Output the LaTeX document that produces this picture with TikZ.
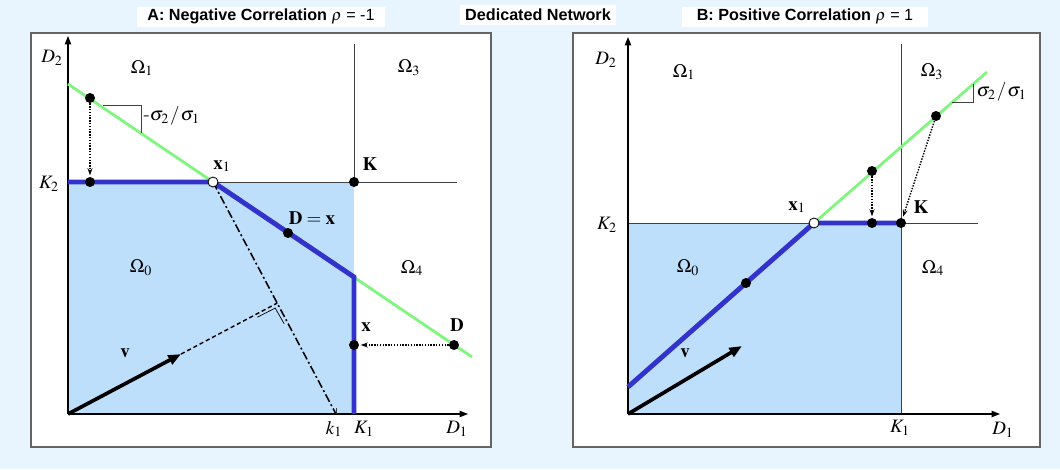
\documentclass[tikz,border=0pt]{standalone}
\usepackage{mathptmx}
\usepackage[no-math]{fontspec}
\newfontfamily\ttlfont{Liberation Sans}
\usepackage{tikz}
\usetikzlibrary{arrows.meta,positioning,calc}
\definecolor{bgblue}{RGB}{232,244,254}
\definecolor{regblue}{RGB}{190,223,252}
\definecolor{pathblue}{RGB}{51,51,204}
\definecolor{linegreen}{RGB}{128,245,128}
\definecolor{framegray}{RGB}{100,100,100}

\begin{document}
\begin{tikzpicture}[x=0.25mm,y=-0.25mm,
  ttl/.style={fill=white,font=\ttlfont\fontsize{11.5}{13}\selectfont,minimum height=4.8mm,inner sep=0pt},
  frm/.style={draw=framegray,fill=white,line width=1pt},
  ax/.style={line width=0.9pt,-{Triangle[length=6pt,width=4.5pt]}},
  grn/.style={linegreen,line width=2pt},
  blu/.style={pathblue,line width=3.5pt},
  thinln/.style={black!75,line width=0.6pt},
  dot/.style={circle,fill=black,inner sep=0pt,minimum size=2.5mm},
  odot/.style={circle,draw=black,fill=white,inner sep=0pt,minimum size=2.5mm,line width=0.6pt},
  lab/.style={font=\fontsize{13.5}{15}\selectfont,inner sep=1pt},
  mv/.style={-{Stealth[length=5pt,width=3.5pt]},densely dotted,line width=1pt,shorten >=1pt},
  vec/.style={line width=2.6pt,-{Triangle[length=9pt,width=7pt]}}]
  \path[use as bounding box,fill=bgblue] (0,0) rectangle (1060,469);
  % titles
  \node[ttl,minimum width=62mm] (ttlA) at (261,17) {{\bfseries A: Negative Correlation} $\rho$ = -1};
  \node[ttl,minimum width=39mm] (ttlN) at (538,15) {\bfseries Dedicated Network};
  \node[ttl,minimum width=61.5mm] (ttlB) at (805,17) {{\bfseries B: Positive Correlation} $\rho$ = 1};

  % panel A
  \draw[frm] (31,33) rectangle (491,447);
  \fill[regblue] (68,182) rectangle (354,414);
  \coordinate (Oa) at (68,414);
  \coordinate (K2a) at (68,182);
  \coordinate (Ka) at (354,182);
  \coordinate (x1a) at (213,182);
  \coordinate (Ca) at (354,277);
  \coordinate (K1a) at (354,414);
  \coordinate (k1a) at (336,414);
  \coordinate (Ga) at (68,84);
  \coordinate (Ha) at (472,357);
  \draw[thinln] (354,44) -- (Ka);
  \draw[thinln] (K2a) -- (457,182);
  \draw[ax] (Oa) -- (68,36);
  \draw[ax] (Oa) -- (468,414);
  \draw[thinln] (k1a) -- ++(0,-6);
  \draw[grn] (Ga) -- (Ha);
  \draw[blu] (K2a) -- (x1a) -- (Ca) -- (K1a);
  \draw[black,line width=1.1pt,dash pattern=on 6pt off 2pt on 1.4pt off 2pt] (x1a) -- (k1a);
  \coordinate (Fa) at ($(x1a)!(Oa)!(k1a)$);
  \draw[vec] (Oa) -- ($(Oa)!0.54!(Fa)$) coordinate (vtipa);
  \draw[densely dashed,line width=1pt] (vtipa) -- (Fa);
  \coordinate (Fm) at ($(Fa)+(-2,5)$);
  \draw[black,line width=0.5pt] ($(Fm)!5mm!(Oa)$) -- (Fm) -- ($(Fm)!4.5mm!(k1a)$);
  \draw[thinln] (103,105) -- (141,105) -- (141,133);
  \node[dot] (p1a) at (90,98) {};
  \node[dot] (q1a) at (90,182) {};
  \node[dot] (Da) at (288,233) {};
  \node[dot] (xa) at (354,345) {};
  \node[dot] (Dpa) at (454,345) {};
  \node[dot] (Kda) at (Ka) {};
  \node[odot] (x1da) at (x1a) {};
  \draw[mv] (p1a) -- (q1a);
  \draw[mv] (Dpa) -- (xa);
  \node[lab] (D2a) at (52,58) {$D_2$};
  \node[lab] (Om1a) at (142,68) {$\Omega_1$};
  \node[lab] (Om3a) at (409,68) {$\Omega_3$};
  \node[lab] (Om0a) at (141,268) {$\Omega_0$};
  \node[lab] (Om4a) at (412,268) {$\Omega_4$};
  \node[lab] (K2la) at (49,184) {$K_2$};
  \node[lab] (x1la) at (222,166) {$\mathbf{x}_1$};
  \node[lab] (Kla) at (370,164) {$\mathbf{K}$};
  \node[lab] (Dxla) at (312,218) {$\mathbf{D}=\mathbf{x}$};
  \node[lab] (xla) at (366,327) {$\mathbf{x}$};
  \node[lab] (Dla) at (457,325) {$\mathbf{D}$};
  \node[lab] (vla) at (125,353) {$\mathbf{v}$};
  \node[lab] (k1la) at (334,429) {$k_1$};
  \node[lab] (K1la) at (364,429) {$K_1$};
  \node[lab] (D1la) at (457,429) {$D_1$};
  \node[lab,anchor=west] (slpa) at (142,116) {$\textrm{-}\sigma_2\mkern1mu/\mkern1mu\sigma_1$};

  % panel B
  \draw[frm] (573,33) rectangle (1040,447);
  \fill[regblue] (628,223) rectangle (901,414);
  \coordinate (Ob) at (628,414);
  \coordinate (Kb) at (901,223);
  \coordinate (x1b) at (814,223);
  \coordinate (Sb) at (628,387);
  \coordinate (Gb) at (987,72);
  \draw[thinln] (901,44) -- (901,414);
  \draw[thinln] (628,223) -- (978,223);
  \draw[ax] (Ob) -- (628,37);
  \draw[ax] (Ob) -- (1000,414);
  \draw[grn] (x1b) -- (Gb);
  \draw[blu] (Sb) -- (x1b) -- (Kb);
  \draw[thinln] (952,102) -- (973,102) -- (973,84);
  \draw[vec] (Ob) -- (742,346);
  \node[dot] (Mb) at (746,283) {};
  \node[dot] (p1b) at (872,171) {};
  \node[dot] (q1b) at (872,223) {};
  \node[dot] (p2b) at (936,116) {};
  \node[dot] (Kdb) at (Kb) {};
  \node[odot] (x1db) at (x1b) {};
  \draw[mv] (p1b) -- (q1b);
  \draw[mv] (p2b) -- (Kdb);
  \node[lab] (D2b) at (606,60) {$D_2$};
  \node[lab] (Om1b) at (684,72) {$\Omega_1$};
  \node[lab] (Om3b) at (932,72) {$\Omega_3$};
  \node[lab] (Om0b) at (688,268) {$\Omega_0$};
  \node[lab] (Om4b) at (933,268) {$\Omega_4$};
  \node[lab] (K2lb) at (607,225) {$K_2$};
  \node[lab] (x1lb) at (797,207) {$\mathbf{x}_1$};
  \node[lab] (Klb) at (921,207) {$\mathbf{K}$};
  \node[lab] (vlb) at (685,353) {$\mathbf{v}$};
  \node[lab] (K1lb) at (900,428) {$K_1$};
  \node[lab] (D1lb) at (1003,430) {$D_1$};
  \node[lab,anchor=west] (slpb) at (975,92) {$\sigma_2\mkern1mu/\mkern1mu\sigma_1$};
\end{tikzpicture}
\end{document}
